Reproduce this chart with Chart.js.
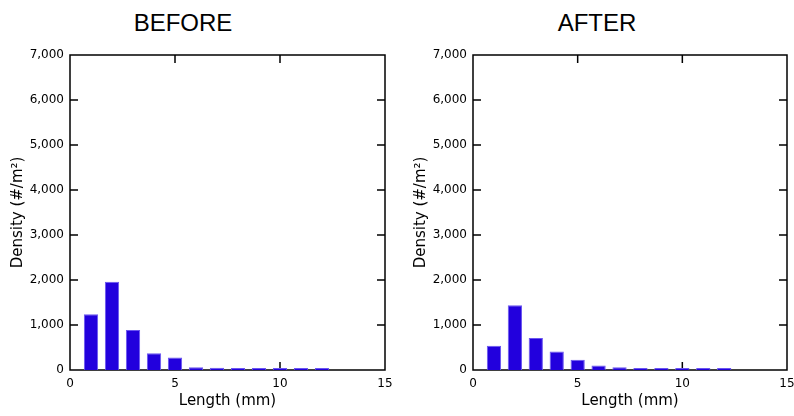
<!DOCTYPE html>
<html>
<head>
<meta charset="utf-8">
<script src="https://cdn.jsdelivr.net/npm/chart.js@4"></script>
<style>
  body { margin: 0; background: #fff; }
  .wrap { position: absolute; top: 0; height: 416px; }
  .ttl { position: absolute; top: 11px; width: 200px; text-align: center;
         font: 24px "Liberation Sans", Arial, sans-serif; line-height: 24px; color: #000; }
</style>
</head>
<body>
<div class="ttl" style="left:83px">BEFORE</div>
<div class="ttl" style="left:497px">AFTER</div>
<div class="wrap" style="left:0;width:397px"><canvas id="before"></canvas></div>
<div class="wrap" style="left:403px;width:391px"><canvas id="after"></canvas></div>
<script>
// length classes (mm) and densities (#/m2)
const lengths = [1, 2, 3, 4, 5, 6, 7, 8, 9, 10, 11, 12];
const beforeDensity = [1240, 1960, 890, 370, 280, 60, 50, 15, 15, 15, 15, 15];
const afterDensity = [540, 1440, 710, 410, 230, 100, 60, 15, 15, 15, 15, 15];
const xTicks = [0, 5, 10, 15];
const yTicks = [0, 1000, 2000, 3000, 4000, 5000, 6000, 7000];

const tickFont = { family: 'DejaVu Sans', size: 12 };
const titleFont = { family: 'DejaVu Sans', size: 15 };

// box frame with inward tick marks, drawn under the bars
const framePlugin = {
  id: 'frame',
  beforeDatasetsDraw(chart) {
    const c = chart.ctx, a = chart.chartArea;
    const xs = chart.scales.x, ys = chart.scales.y;
    c.save();
    c.strokeStyle = '#000';
    c.lineWidth = 1.5;
    c.strokeRect(a.left, a.top, a.right - a.left, a.bottom - a.top);
    c.beginPath();
    yTicks.slice(1, -1).forEach(v => {
      const y = ys.getPixelForValue(v);
      c.moveTo(a.left, y); c.lineTo(a.left + 8, y);
      c.moveTo(a.right, y); c.lineTo(a.right - 8, y);
    });
    xTicks.slice(1, -1).forEach(v => {
      const x = xs.getPixelForValue(v);
      c.moveTo(x, a.bottom); c.lineTo(x, a.bottom - 8);
      c.moveTo(x, a.top); c.lineTo(x, a.top + 8);
    });
    c.stroke();
    c.restore();
  }
};

function makeChart(id, values, padRight) {
  return new Chart(document.getElementById(id), {
    type: 'bar',
    data: {
      datasets: [{
        data: lengths.map((x, i) => ({ x: x, y: values[i] })),
        backgroundColor: '#2200dd',
        borderColor: '#6a55f0',
        borderWidth: 1,
        barPercentage: 0.68,
        categoryPercentage: 1,
        minBarLength: 2
      }]
    },
    options: {
      responsive: true,
      maintainAspectRatio: false,
      animation: false,
      locale: 'en-US',
      layout: { padding: { top: 55, right: padRight, bottom: 0, left: 0 } },
      plugins: { legend: { display: false }, tooltip: { enabled: false } },
      scales: {
        x: {
          type: 'linear', min: 0, max: 15, offset: false,
          afterBuildTicks(s) { s.ticks = xTicks.map(v => ({ value: v })); },
          ticks: { font: tickFont, color: '#000', padding: 7, maxRotation: 0 },
          grid: { display: false, drawTicks: false, offset: false },
          border: { display: false },
          title: { display: true, text: 'Length (mm)', font: titleFont, color: '#000',
                   padding: { top: 0, bottom: 6 } },
          afterFit(s) { s.height = 46; s.paddingLeft = 0; s.paddingRight = 0; }
        },
        y: {
          min: 0, max: 7000,
          afterBuildTicks(s) { s.ticks = yTicks.map(v => ({ value: v })); },
          ticks: { font: tickFont, color: '#000', padding: 6 },
          grid: { display: false, drawTicks: false },
          border: { display: false },
          title: { display: true, text: 'Density (#/m²)', font: titleFont, color: '#000',
                   padding: { top: 9.5, bottom: 0 } },
          afterFit(s) { s.width = 70; s.paddingTop = 0; s.paddingBottom = 0; }
        }
      }
    },
    plugins: [framePlugin]
  });
}

makeChart('before', beforeDensity, 12);
makeChart('after', afterDensity, 7);
</script>
</body>
</html>
